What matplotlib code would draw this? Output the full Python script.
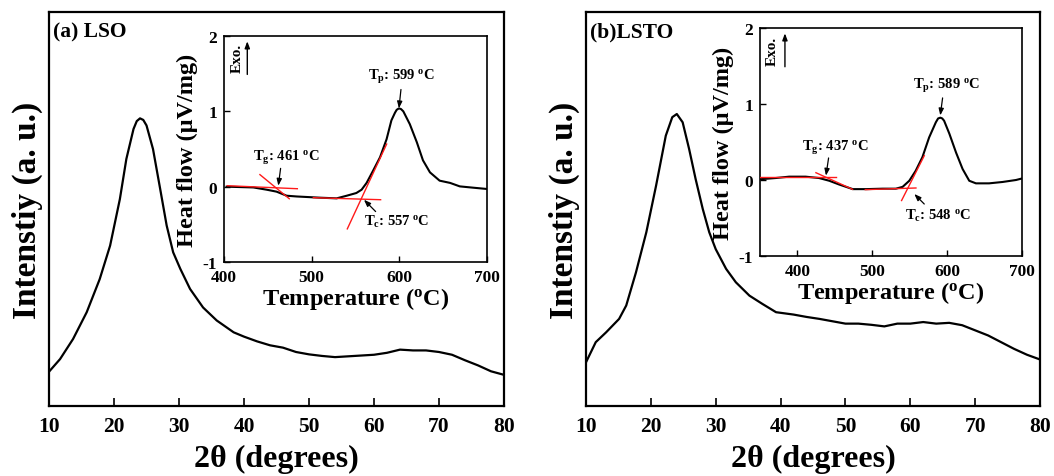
import numpy as np
import matplotlib
matplotlib.use("Agg")
import matplotlib.pyplot as plt

plt.rcParams["font.family"] = ["Liberation Serif", "DejaVu Serif"]
plt.rcParams["font.weight"] = "bold"
plt.rcParams["mathtext.fontset"] = "custom"
plt.rcParams["mathtext.rm"] = "Liberation Serif:bold"
plt.rcParams["mathtext.bf"] = "Liberation Serif:bold"
plt.rcParams["mathtext.it"] = "Liberation Serif:bold"
plt.rcParams["axes.unicode_minus"] = False

# ----- XRD patterns (intensity in arbitrary units, 0-100 scale) -------------
TWO_THETA_A = [10, 11.7, 13.7, 15.8, 17.8, 19.4, 20.9, 21.9, 23, 23.5, 24,
               24.5, 25, 26, 27.1, 28.1, 29.1, 30.2, 31.7, 33.7, 35.8, 38.4,
               40, 42, 44, 46, 48, 50, 52, 54, 56, 58, 60, 62, 64, 66, 68,
               70, 72, 74, 76, 78, 80]
INT_A = [8.7, 11.9, 17.0, 23.8, 32.2, 40.7, 52.5, 62.7, 70.3, 72.3, 73.0,
         72.6, 71.2, 65.2, 55.1, 45.8, 39.0, 34.8, 29.7, 25.0, 21.7, 18.7,
         17.6, 16.4, 15.4, 14.8, 13.7, 13.1, 12.7, 12.4, 12.6, 12.8, 13.0,
         13.5, 14.3, 14.1, 14.1, 13.7, 13.0, 11.6, 10.3, 8.8, 7.9]

TWO_THETA_B = [10, 11.5, 13.1, 15.1, 16.2, 17.7, 19.3, 20.8, 22.3, 23.3, 24,
               24.9, 25.9, 26.9, 28, 29, 30, 31.6, 33.1, 35.2, 37.2, 39.3,
               42, 44, 46, 48, 50, 52, 54, 56, 58, 60, 62, 64, 66, 68, 70,
               72, 74, 76, 78, 80]
INT_B = [11.1, 16.2, 18.7, 22.1, 25.5, 33.9, 44.1, 55.9, 68.6, 73.3, 74.1,
         72.0, 65.2, 57.6, 50.0, 44.1, 39.8, 34.8, 31.4, 28.0, 25.9, 23.8,
         23.2, 22.6, 22.1, 21.5, 20.9, 20.9, 20.6, 20.2, 20.9, 20.9, 21.3,
         20.9, 21.1, 20.5, 19.2, 17.9, 16.2, 14.5, 13.0, 11.8]

# ----- DSC curves (heat flow, uV/mg) ----------------------------------------
TEMP_A = [403, 433.5, 448.7, 460, 471.5, 483, 509.5, 528.5, 540, 551, 557,
          562.7, 570, 578, 585.5, 591, 595, 597, 599.6, 602, 604.6, 612, 620,
          627, 635, 646, 658, 669, 684, 699.6]
HF_A = [0.0, -0.01, -0.04, -0.066, -0.12, -0.13, -0.146, -0.155, -0.12,
        -0.084, -0.04, 0.05, 0.21, 0.39, 0.63, 0.88, 0.98, 1.02, 1.04, 1.03,
        1.0, 0.83, 0.59, 0.35, 0.19, 0.08, 0.05, 0.004, -0.013, -0.03]

TEMP_B = [350, 371, 389, 411, 429, 442.6, 456, 474, 492, 514, 531.6, 540.6,
          549.5, 558, 567, 576, 585, 588, 591, 593.5, 596, 603, 612, 620.7,
          629.6, 638.5, 656, 674, 692, 700]
HF_B = [0.01, 0.026, 0.044, 0.044, 0.026, -0.01, -0.06, -0.12, -0.12,
        -0.114, -0.114, -0.09, -0.01, 0.12, 0.30, 0.56, 0.76, 0.81, 0.82,
        0.81, 0.78, 0.61, 0.36, 0.145, -0.01, -0.044, -0.044, -0.026, 0.0,
        0.02]

# ----- tangent construction lines (start/end points) ------------------------
TANGENT_T_A = [[403.8, 483.7], [441, 474.5], [501.9, 578.7], [540.7, 585.6]]
TANGENT_H_A = [[0.013, -0.027], [0.16, -0.16], [-0.146, -0.173], [-0.56, 0.566]]
TANGENT_T_B = [[350, 451.5], [424.8, 473.8], [490.7, 558.4], [539.2, 569.5]]
TANGENT_H_B = [[0.044, 0.044], [0.096, -0.123], [-0.127, -0.105], [-0.27, 0.32]]

# ----- characteristic temperatures: label, arrow tail, arrow tip -----------
EVENT_LABELS_A = [r"T$_\mathregular{g}$: 461 $^\mathregular{o}$C",
                  r"T$_\mathregular{p}$: 599 $^\mathregular{o}$C",
                  r"T$_\mathregular{c}$: 557 $^\mathregular{o}$C"]
ARROW_TAIL_A = [(464.6, 0.243), (601.9, 1.29), (573, -0.33)]
ARROW_TIP_A = [(462, 0.013), (599.6, 1.04), (559.7, -0.173)]
EVENT_LABELS_B = [r"T$_\mathregular{g}$: 437 $^\mathregular{o}$C",
                  r"T$_\mathregular{p}$: 589 $^\mathregular{o}$C",
                  r"T$_\mathregular{c}$: 548 $^\mathregular{o}$C"]
ARROW_TAIL_B = [(441.7, 0.29), (594, 1.08), (569.5, -0.316)]
ARROW_TIP_B = [(438.2, 0.057), (590.9, 0.85), (556.2, -0.184)]

XRD_TICKS = [10, 20, 30, 40, 50, 60, 70, 80]
DSC_YTICKS = [-1, 0, 1, 2]

ARROW = "-|>,head_length=0.4,head_width=0.15"


def draw_panel(fig, main_rect, inset_rect, tth, inten, tag,
               temp, hf, t_xlim, t_ticks, tan_t, tan_h,
               labels, tails, tips, label_pos, exo_x, exo_arrow_x):
    ax = fig.add_axes(main_rect)
    ax.plot(tth, inten, color="black", lw=1.6)
    ax.set_xlim(10, 80)
    ax.set_ylim(0, 100)
    ax.set_xticks(XRD_TICKS)
    ax.set_yticks([])
    ax.tick_params(axis="x", direction="in", length=6, width=1.2,
                   labelsize=15.5, pad=7)
    for s in ax.spines.values():
        s.set_linewidth(1.6)
    ax.set_xlabel("2θ (degrees)", fontsize=23, fontweight="bold", labelpad=6)
    ax.set_ylabel("Intenstiy (a. u.)", fontsize=24, fontweight="bold",
                  labelpad=4)
    ax.text(0.009, 0.95, tag, transform=ax.transAxes, fontsize=15.5,
            fontweight="bold", va="center", ha="left")

    ins = fig.add_axes(inset_rect)
    ins.plot(temp, hf, color="black", lw=1.5, zorder=2)
    for tt, hh in zip(tan_t, tan_h):
        ins.plot(tt, hh, color="#ff1a1a", lw=1.0, zorder=3)
    ins.set_xlim(*t_xlim)
    ins.set_ylim(-1, 2)
    ins.set_xticks(t_ticks)
    ins.set_yticks(DSC_YTICKS)
    ins.tick_params(direction="in", length=4, width=1.0, labelsize=12.5, pad=5)
    for s in ins.spines.values():
        s.set_linewidth(1.2)
    ins.set_xlabel("Temperature ($^\\mathregular{o}$C)", fontsize=17.5,
                   fontweight="bold", labelpad=0)
    ins.set_ylabel("Heat flow (μV/mg)", fontsize=17.5, fontweight="bold",
                   labelpad=3)
    for lab, tail, tip, pos in zip(labels, tails, tips, label_pos):
        ins.annotate("", xy=tip, xytext=tail,
                     arrowprops=dict(arrowstyle=ARROW, color="black", lw=0.9,
                                     shrinkA=0, shrinkB=0))
        ins.text(pos[0], pos[1], lab, fontsize=10.5, fontweight="bold",
                 ha="left", va="center")
    ins.text(exo_x, 1.71, "Exo.", rotation=90, fontsize=11,
             fontweight="bold", ha="center", va="center")
    ins.annotate("", xy=(exo_arrow_x, 1.93), xytext=(exo_arrow_x, 1.49),
                 arrowprops=dict(arrowstyle=ARROW, color="black", lw=1.0,
                                 shrinkA=0, shrinkB=0))
    return ax, ins


fig = plt.figure(figsize=(10.54, 4.77), dpi=100)

draw_panel(fig, [0.0465, 0.1468, 0.4317, 0.826],
           [0.2125, 0.4486, 0.2495, 0.4738],
           TWO_THETA_A, INT_A, "(a) LSO",
           TEMP_A, HF_A, (400, 700), [400, 500, 600, 700],
           TANGENT_T_A, TANGENT_H_A,
           EVENT_LABELS_A, ARROW_TAIL_A, ARROW_TIP_A,
           [(433.5, 0.40), (564.6, 1.47), (559.7, -0.46)],
           415, 426.6)

draw_panel(fig, [0.556, 0.1468, 0.4307, 0.826],
           [0.721, 0.4612, 0.2486, 0.478],
           TWO_THETA_B, INT_B, "(b)LSTO",
           TEMP_B, HF_B, (350, 700), [400, 500, 600, 700],
           TANGENT_T_B, TANGENT_H_B,
           EVENT_LABELS_B, ARROW_TAIL_B, ARROW_TIP_B,
           [(406, 0.43), (553.9, 1.25), (544, -0.46)],
           366, 383.4)

fig.savefig("out.png", dpi=100, facecolor="white")
